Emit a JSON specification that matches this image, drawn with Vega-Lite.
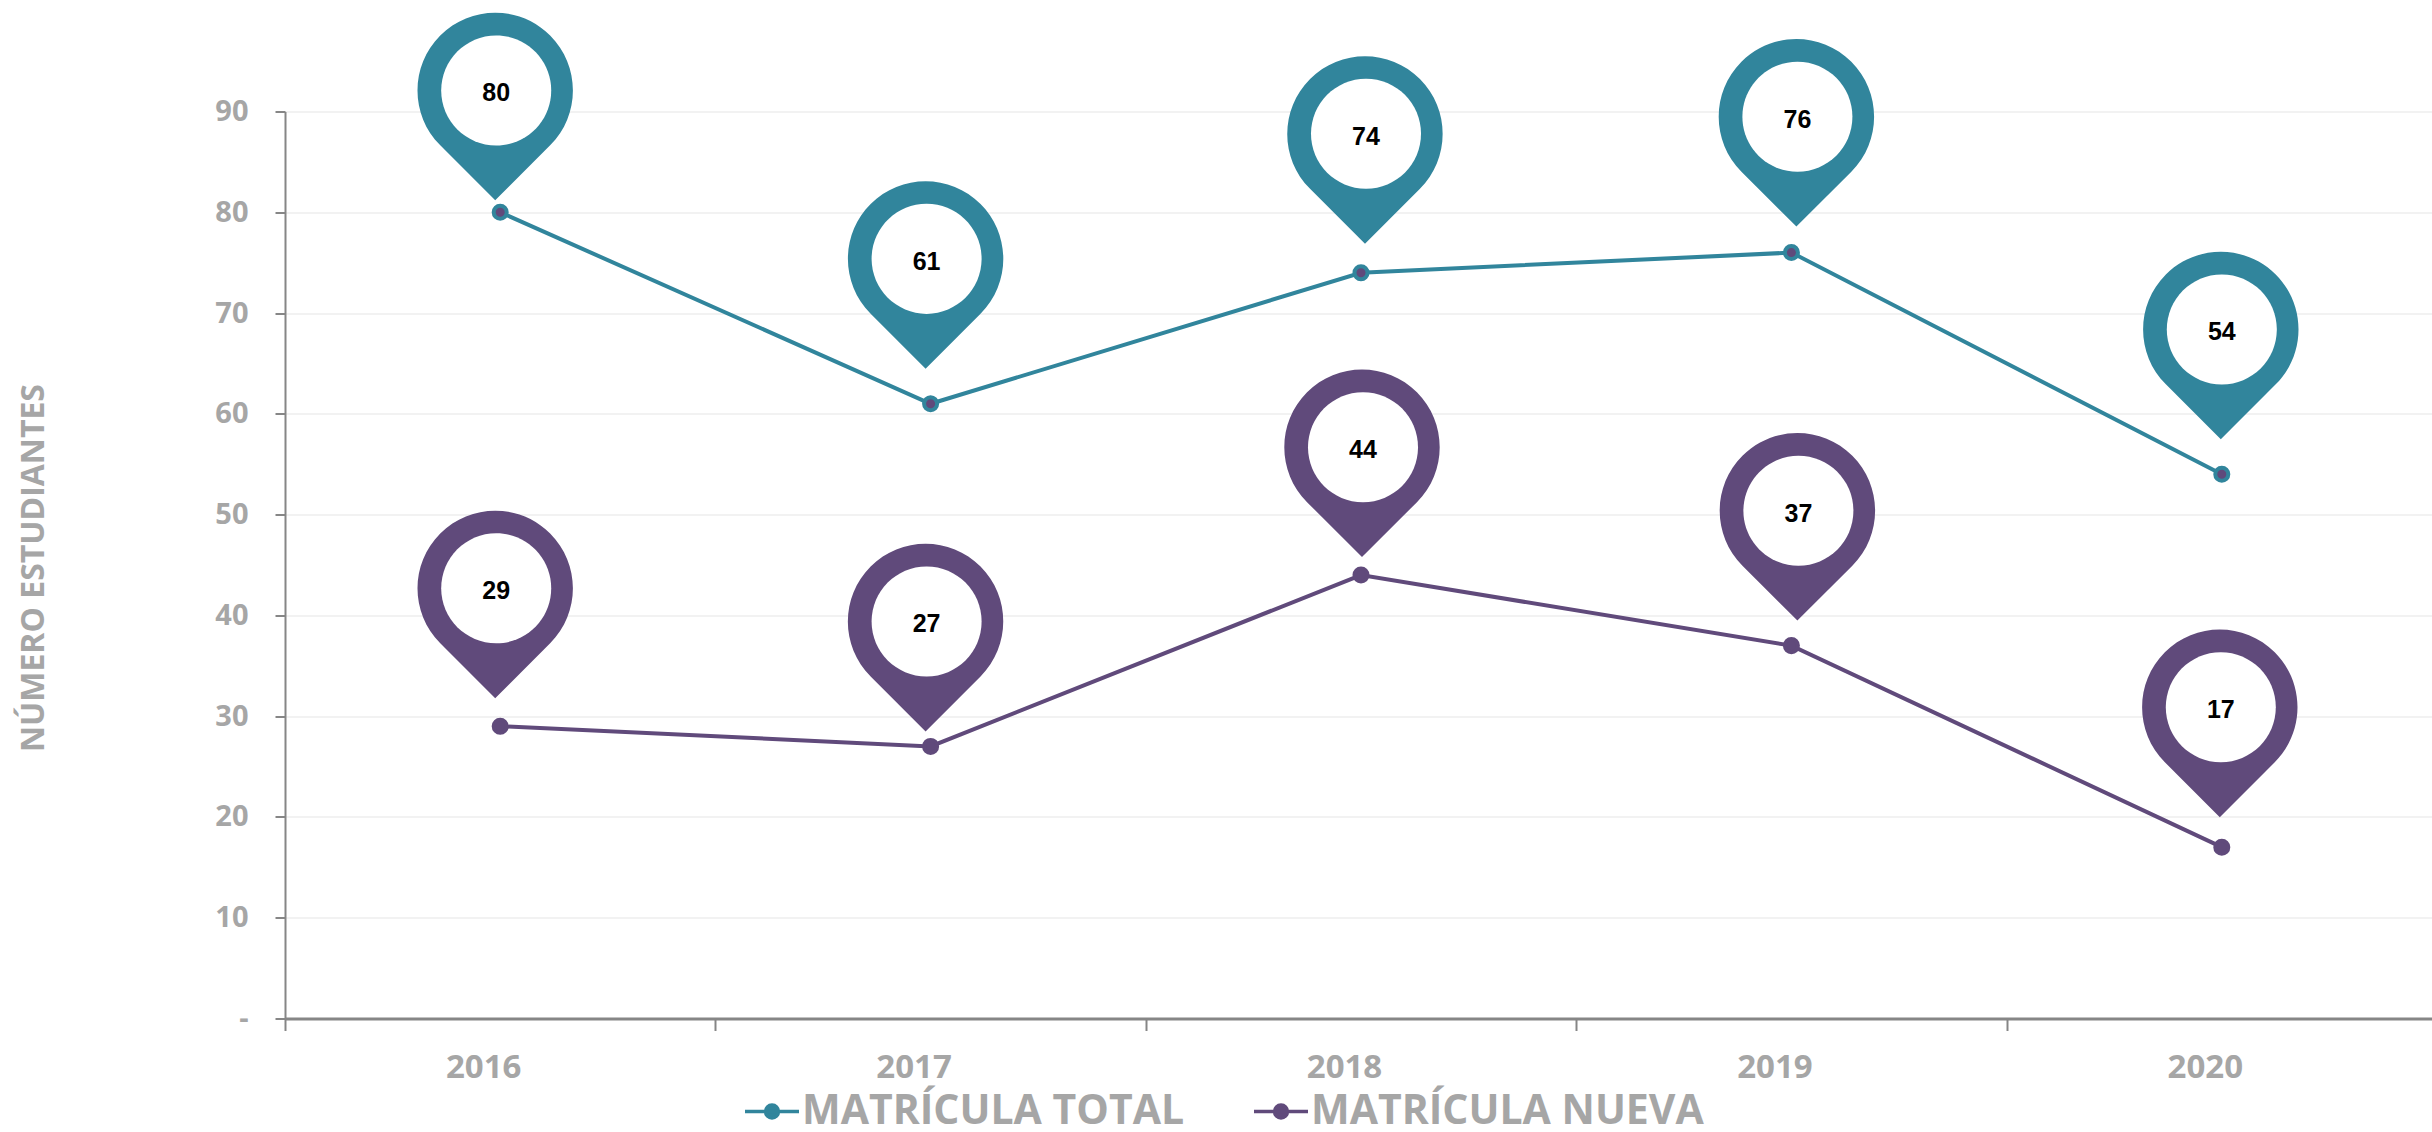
{
"$schema":"https://vega.github.io/schema/vega-lite/v6.json",
"width":2147,"height":907,
"autosize":{"type":"none"},
"padding":{"left":285,"top":111.5,"right":0,"bottom":113.5},
"background":"white",
"config":{"view":{"stroke":null},"font":"Open Sans"},
"data":{"values":[
{"anio":2016,"serie":"MATRÍCULA TOTAL","valor":80},
{"anio":2017,"serie":"MATRÍCULA TOTAL","valor":61},
{"anio":2018,"serie":"MATRÍCULA TOTAL","valor":74},
{"anio":2019,"serie":"MATRÍCULA TOTAL","valor":76},
{"anio":2020,"serie":"MATRÍCULA TOTAL","valor":54},
{"anio":2016,"serie":"MATRÍCULA NUEVA","valor":29},
{"anio":2017,"serie":"MATRÍCULA NUEVA","valor":27},
{"anio":2018,"serie":"MATRÍCULA NUEVA","valor":44},
{"anio":2019,"serie":"MATRÍCULA NUEVA","valor":37},
{"anio":2020,"serie":"MATRÍCULA NUEVA","valor":17}
]},
"encoding":{
"x":{"field":"anio","type":"ordinal","scale":{"type":"band","range":[0,2152],"paddingInner":0,"paddingOuter":0},
"axis":{"title":null,"labelAngle":0,"tickBand":"extent","labelOffset":-17,"tickSize":12,"tickColor":"#868686","tickWidth":2,"domainColor":"#868686","domainWidth":3,"labelColor":"#A6A6A6","labelFont":"Open Sans","labelFontWeight":"bold","labelFontSize":33,"labelPadding":21,"grid":false}},
"y":{"field":"valor","type":"quantitative","scale":{"domain":[0,90],"nice":false},
"axis":{"title":"NÚMERO ESTUDIANTES","titleFont":"Open Sans","titleFontWeight":"bold","titleFontSize":32,"titleColor":"#A6A6A6","titleX":-235,"titleY":456,"values":[0,10,20,30,40,50,60,70,80,90],"labelExpr":"datum.value==0?'-':datum.value","labelColor":"#A6A6A6","labelFont":"Open Sans","labelFontWeight":"bold","labelFontSize":29,"labelPadding":27,"tickSize":10,"tickColor":"#868686","tickWidth":2,"domainColor":"#868686","domainWidth":2,"grid":true,"gridColor":"#F2F2F2","gridWidth":2}}
},
"layer":[
{"mark":{"type":"line","strokeWidth":4},
"encoding":{"stroke":{"field":"serie","type":"nominal","scale":{"domain":["MATRÍCULA TOTAL","MATRÍCULA NUEVA"],"range":["#31859C","#604A7B"]},
"legend":{"title":null,"orient":"none","direction":"horizontal","legendX":458,"legendY":971,"symbolType":"M-1,0L1,0M-0.24,0A0.24,0.24,0,1,1,0.24,0A0.24,0.24,0,1,1,-0.24,0Z","symbolSize":2916,"symbolStrokeWidth":3.5,"symbolFillColor":"#604A7B","labelFont":"Open Sans","labelFontWeight":"bold","labelFontSize":41,"labelColor":"#A6A6A6","labelOffset":1,"columnPadding":62,"labelLimit":600}}}},
{"mark":{"type":"point","filled":true,"fill":"#604A7B","fillOpacity":1,"opacity":1,"size":170,"strokeWidth":4},
"encoding":{"stroke":{"field":"serie","type":"nominal","scale":{"domain":["MATRÍCULA TOTAL","MATRÍCULA NUEVA"],"range":["#31859C","#604A7B"]}}}},
{"mark":{"type":"point","filled":true,"opacity":1,"size":24150,"strokeWidth":0,"shape":"M0,0L-0.7071,-0.7071A1,1,0,1,1,0.7071,-0.7071Z",
"xOffset":{"expr":"(datum.serie=='MATRÍCULA TOTAL'?[-5,-5,4,5,-1]:[-5,-5,1,6,-2])[datum.anio-2016]"},
"yOffset":{"expr":"(datum.serie=='MATRÍCULA TOTAL'?[-12,-35,-29,-26,-35]:[-28,-15,-18,-25,-30])[datum.anio-2016]"}},
"encoding":{"fill":{"field":"serie","type":"nominal","legend":null,"scale":{"domain":["MATRÍCULA TOTAL","MATRÍCULA NUEVA"],"range":["#31859C","#604A7B"]}}}},
{"mark":{"type":"point","filled":true,"fill":"white","opacity":1,"size":24150,"strokeWidth":0,"shape":"M-0.708,-1.4142A0.708,0.708,0,1,1,0.708,-1.4142A0.708,0.708,0,1,1,-0.708,-1.4142Z",
"xOffset":{"expr":"(datum.serie=='MATRÍCULA TOTAL'?[-5,-5,4,5,-1]:[-5,-5,1,6,-2])[datum.anio-2016]+1"},
"yOffset":{"expr":"(datum.serie=='MATRÍCULA TOTAL'?[-12,-35,-29,-26,-35]:[-28,-15,-18,-25,-30])[datum.anio-2016]"}}},
{"mark":{"type":"text","font":"Liberation Sans","fontWeight":"bold","fontSize":25,"color":"black","align":"center","baseline":"middle",
"xOffset":{"expr":"(datum.serie=='MATRÍCULA TOTAL'?[-5,-5,4,5,-1]:[-5,-5,1,6,-2])[datum.anio-2016]+1"},
"yOffset":{"expr":"(datum.serie=='MATRÍCULA TOTAL'?[-12,-35,-29,-26,-35]:[-28,-15,-18,-25,-30])[datum.anio-2016]-107"}},
"encoding":{"text":{"field":"valor","type":"quantitative"}}}
]
}
